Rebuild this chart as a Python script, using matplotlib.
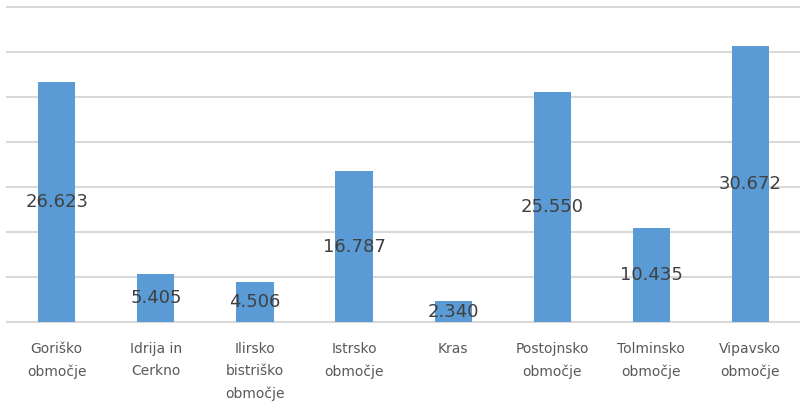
import numpy as np
import matplotlib.pyplot as plt

regions = ['Goriško\nobmočje', 'Idrija in\nCerkno', 'Ilirsko\nbistriško\nobmočje',
           'Istrsko\nobmočje', 'Kras', 'Postojnsko\nobmočje', 'Tolminsko\nobmočje',
           'Vipavsko\nobmočje']
values = [26.623, 5.405, 4.506, 16.787, 2.340, 25.550, 10.435, 30.672]
value_labels = ['26.623', '5.405', '4.506', '16.787', '2.340', '25.550', '10.435', '30.672']

fig = plt.figure(figsize=(8, 4.12), dpi=100)
ax = fig.add_axes([0.009, 0.218, 0.991, 0.765])

x = np.arange(len(values))
bars = ax.bar(x, values, width=0.375, color='#5B9BD5', zorder=3)

for b, lab in zip(bars, value_labels):
    ax.text(b.get_x() + b.get_width() / 2, b.get_height() / 2, lab,
            ha='center', va='center', fontsize=13, color='#404040', zorder=4)

ax.set_xlim(-0.5, len(values) - 0.5)
ax.set_ylim(0, 35)
ax.set_yticks(np.arange(0, 36, 5))
ax.yaxis.grid(True, color='#D9D9D9', linewidth=1.5, zorder=0)
for gl in ax.get_ygridlines():
    gl.set_clip_on(False)
ax.tick_params(axis='y', left=False, labelleft=False)
ax.tick_params(axis='x', length=0, pad=14)
ax.set_xticks(x)
ax.set_xticklabels(regions, fontsize=10, color='#595959', linespacing=1.75)

for s in ['top', 'right', 'left']:
    ax.spines[s].set_visible(False)
ax.spines['bottom'].set_color('#D9D9D9')
ax.spines['bottom'].set_linewidth(1.5)

plt.savefig('out.png', dpi=100)
